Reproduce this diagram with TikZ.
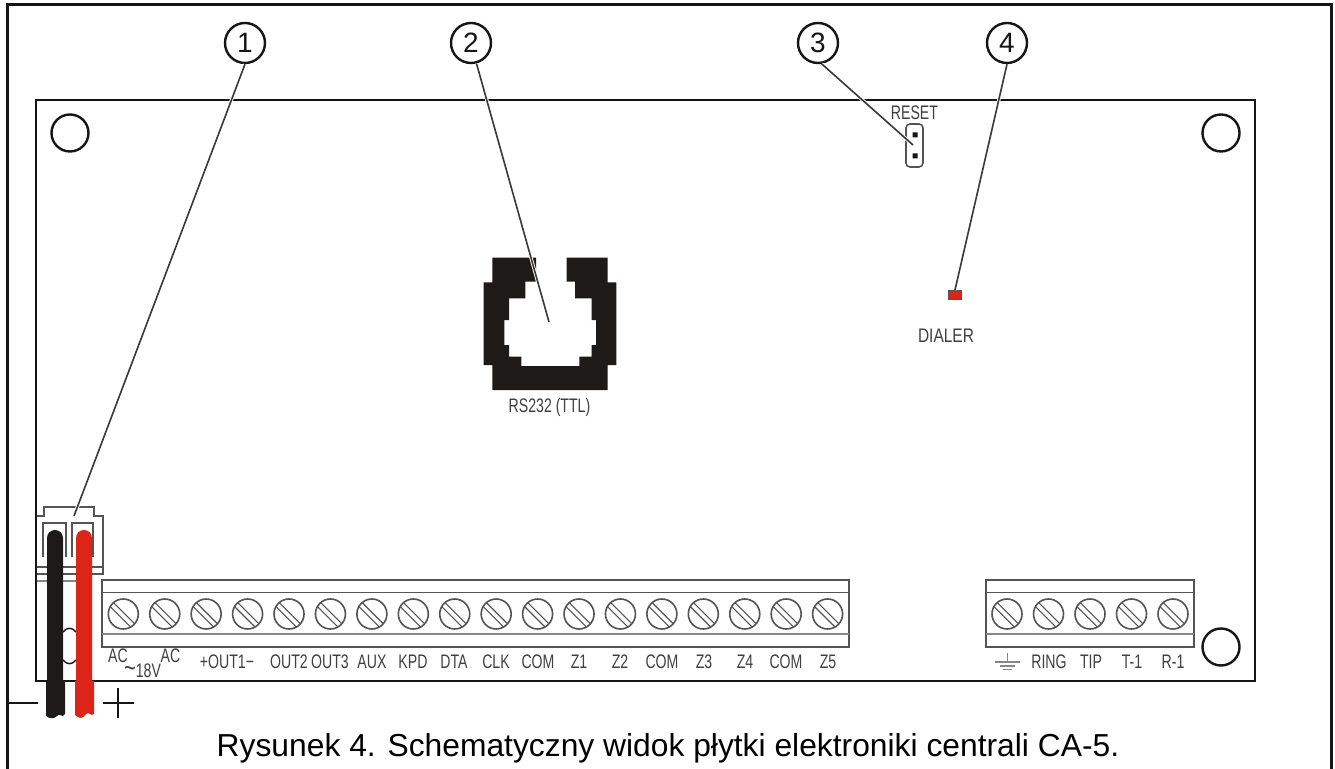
\documentclass[tikz,border=0pt]{standalone}
\usepackage{fontspec}
\setmainfont{Liberation Sans}
\definecolor{ink}{HTML}{151515}
\definecolor{term}{HTML}{555452}
\definecolor{lab}{HTML}{404040}
\definecolor{wirered}{HTML}{DC2518}
\definecolor{wireblack}{HTML}{1E1A18}
\newcommand{\nar}[1]{\scalebox{0.72}[1]{#1}}
\tikzset{
  x=0.5pt,y=-0.5pt,
  frameline/.style={draw=ink,line width=1.5pt},
  boardline/.style={draw=ink,line width=1.2pt},
  hole/.style={draw=ink,line width=1.2pt,circle,minimum size=18.5pt,inner sep=0pt},
  callout/.style={draw=ink,line width=1.2pt,circle,minimum size=20pt,inner sep=0pt,font=\fontsize{14}{16}\selectfont,text=ink},
  leader/.style={draw=ink!85,line width=0.8pt,preaction={draw=white,line width=1.7pt}},
  termline/.style={draw=term,line width=0.8pt},
  termlight/.style={draw=term!70,line width=0.7pt},
  slot/.style={draw=term,line width=0.55pt},
  lbl/.style={text=lab,inner sep=0pt,anchor=base,font=\fontsize{9.8}{11}\selectfont},
  housing/.style={draw=term,line width=0.7pt},
  caption/.style={text=black,inner sep=0pt,anchor=base,font=\fontsize{15.9}{18}\selectfont}
}
\newcommand{\screw}[2]{%
  \draw[termline] (#1,#2) circle[radius=15];
  \draw[slot] ({#1-11.5+1.8},{#2-9.5-1.8}) -- ({#1+9.5+1.8},{#2+11.5-1.8});
  \draw[slot] ({#1-11.5-1.8},{#2-9.5+1.8}) -- ({#1+9.5-1.8},{#2+11.5+1.8});
}
\begin{document}
\begin{tikzpicture}
\useasboundingbox (0,0) rectangle (1335,769);
% page frame
\draw[frameline] (7,769) -- (7,5) -- (1331,5) -- (1331,769);
% board
\draw[boardline,fill=white] (36,100) rectangle (1255,681);
\node[hole] (h1) at (70,133) {};
\node[hole] (h2) at (1221,133) {};
\node[hole] (h3) at (1221,647) {};
% main terminal strip
\draw[termline] (102,580) rectangle (849,647);
\draw[termline] (102,592.5) -- (849,592.5);
\draw[termlight] (102,634) -- (849,634);
\foreach \i in {0,...,17} {\screw{123.3+41.43*\i}{614}}
% phone terminal strip
\draw[termline] (986,580) rectangle (1194,647);
\draw[termline] (986,592.5) -- (1194,592.5);
\draw[termlight] (986,634) -- (1194,634);
\foreach \i in {0,...,4} {\screw{1007+41.5*\i}{614}}
% terminal labels
\node[lbl] (lAC1) at (118,663) {\nar{AC}};
\node[lbl] (l18) at (142.5,678) {\nar{{\fontsize{14}{14}\selectfont\textasciitilde}18V}};
\node[lbl] (lAC2) at (170.5,663) {\nar{AC}};
\foreach \x/\t/\n in {227/{+OUT1−}/a,289/OUT2/b,330/OUT3/c,372/AUX/d,413/KPD/e,454/DTA/f,496/CLK/g,538/COM/h,579/Z1/i,620/Z2/j,662/COM/k,704/Z3/l,745/Z4/m,786/COM/n,828/Z5/o,1049/RING/p,1091/TIP/q,1132/T-1/r,1173/R-1/s}
  {\node[lbl] (lab\n) at (\x,668.5) {\nar{\t}};}
% ground symbol
\draw[termlight] (995,662) -- (1020,662) (1007.5,653) -- (1007.5,662) (1000,666) -- (1015,666) (1003,669.5) -- (1012,669.5);
% jumper
\draw[termline,rounded corners=2pt] (906,124) rectangle (923,167);
\fill[ink] (912.5,132.5) rectangle (917.5,137.5) (912.5,153.5) rectangle (917.5,158.5);
\node[lbl] (reset) at (914.5,120) {\nar{RESET}};
% LED
\draw[term,line width=0.3pt,fill=wirered] (948,290) rectangle (961,299);
\node[lbl] (dialer) at (946,342.5) {\scalebox{0.79}[1]{DIALER}};
% RJ socket
\begin{scope}[shift={(460,240)},x=0.1667pt,y=-0.1667pt]
\fill[wireblack]
  (97,53) -- (228,53) -- (228,125) -- (196,125) -- (196,175) -- (147,175) -- (147,240) -- (133,240) -- (133,315) -- (147,315) -- (147,350) -- (184,350) -- (184,378) -- (358,378) -- (358,350) -- (395,350) -- (395,315) -- (408,315) -- (408,240) -- (395,240) -- (395,175) -- (345,175) -- (345,125) -- (320,125) -- (320,53) -- (443,53) -- (443,127) -- (469,127) -- (469,375) -- (443,375) -- (443,450) -- (97,450) -- (97,375) -- (71,375) -- (71,127) -- (97,127) -- cycle;
\end{scope}
\node[lbl] (rs) at (549.5,413) {\nar{RS232 (TTL)}};
% cable connector housing
\draw[housing] (37,516) -- (44,516) -- (44,507) -- (94,507) -- (94,516) -- (103,516) -- (103,574) -- (37,574);
\draw[housing] (37,567) -- (103,567);
\draw[housing] (43,557) -- (43,523) -- (66,523) -- (66,557);
\draw[housing] (72,557) -- (72,523) -- (93,523) -- (93,557);
\draw[termlight] (37,581) -- (76,581);
\draw[line width=0.7pt,draw=ink] (63,632) .. controls (67,627) and (72,627) .. (76,632);
\draw[line width=0.7pt,draw=ink] (63,660) .. controls (67,665) and (72,665) .. (76,660);
% wires
\fill[wireblack] (47,681) -- (47,538) arc[start angle=180,end angle=360,radius=8] -- (63,681) -- (65,681) -- (65,714) .. controls (62,719) and (60,712) .. (57,716) .. controls (54,719) and (50,719) .. (46,716) -- (46,681) -- cycle;
\fill[wirered] (76,681) -- (76,538) arc[start angle=180,end angle=360,radius=8] -- (92,681) -- (94,681) -- (94,714) .. controls (91,717) and (89,711) .. (86,714) .. controls (83,719) and (79,719) .. (75,715) -- (75,681) -- cycle;
% polarity marks
\coordinate (fr) at (7,703);
\coordinate (mn) at (38,703);
\draw[draw=ink,line width=1.4pt] (fr) -- (mn);
\draw[draw=ink,line width=1.4pt] (103,703) -- (134,703) (118,688) -- (118,718);
% callouts
\node[callout] (c1) at (245,43) {1};
\node[callout] (c2) at (471,43) {2};
\node[callout] (c3) at (818,43) {3};
\node[callout] (c4) at (1007,43) {4};
\coordinate (t1) at (74,516);
\coordinate (t2) at (549,322);
\coordinate (t3) at (913,145);
\coordinate (t4) at (955,290);
\draw[leader] (c1.south) -- (t1);
\draw[leader] (c2.285) -- (t2);
\draw[leader] (c3.280) -- (t3);
\draw[leader] (c4.south) -- (t4);
% caption
\node[caption] (cap) at (668,757) {Rysunek 4. Schematyczny widok płytki elektroniki centrali CA-5.};
\end{tikzpicture}
\end{document}
